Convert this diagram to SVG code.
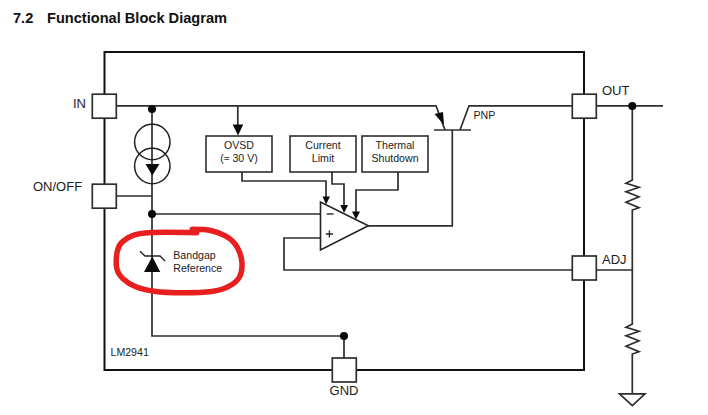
<svg xmlns="http://www.w3.org/2000/svg" width="708" height="415" viewBox="0 0 708 415">
  <style>
    text { font-family: "Liberation Sans", Arial, sans-serif; fill: #1c1c1c; }
    .title { font-size: 14.6px; font-weight: bold; fill: #111; }
    .pin { font-size: 13px; }
    .lbl { font-size: 10.6px; }
    .mid { text-anchor: middle; }
    .wire { fill: none; stroke: #2e2e2e; stroke-width: 1.7; }
    .box { fill: #fff; stroke: #2e2e2e; stroke-width: 1.6; }
    .fillk { fill: #0a0a0a; stroke: none; }
    .pinbox { fill: #fff; stroke: #2e2e2e; stroke-width: 1.7; }
  </style>
  <rect width="708" height="415" fill="#fff"/>

  <g id="heading">
    <text class="title" x="13" y="23">7.2</text>
    <text class="title" x="47" y="23">Functional Block Diagram</text>
  </g>

  <g id="package">
    <rect x="104.500" y="52" width="479.500" height="318" fill="none" stroke="#111" stroke-width="2"/>
    <text class="lbl" x="110.500" y="356">LM2941</text>
  </g>

  <g id="connectors">
    <!-- supply rail and transistor -->
    <path class="wire" d="M116 105.800H436L445 130"/>
    <path class="wire" d="M434 130H471"/>
    <path class="wire" d="M460 130L469 105.800H572"/>
    <path class="fillk" d="M434.500 114L443 112L444 125Z"/>
    <!-- regulator output and feedback divider -->
    <path class="wire" d="M596 105.800H663"/>
    <path class="wire" d="M632.300 106V180L626 183.300L639 187.300L626 191.700L639 196.700L626 202.300L639 207.700L632.300 210V324L626 327.300L639 331.300L626 335.700L639 340.700L626 346.300L639 351.700L632.300 354V393.500"/>
    <path class="wire" d="M596 270H632.300"/>
    <path class="wire" d="M619.500 393.800H645L632.300 405.700Z"/>
    <!-- reference chain -->
    <path class="wire" d="M152 106V336H344V358"/>
    <path class="wire" d="M116 196H152"/>
    <path class="wire" d="M152 214H320.500"/>
    <!-- block outputs into the error amplifier -->
    <path class="wire" d="M237.800 106V126"/>
    <path class="wire" d="M242 172V181H326V198"/>
    <path class="wire" d="M332 172V184H344V206"/>
    <path class="wire" d="M398 172V190H356V212"/>
    <path class="wire" d="M368 225.800H452.300V130"/>
    <path class="wire" d="M320.500 238H284V270H572"/>
    <path class="fillk" d="M232.700 124.500H243.200L238 135.500Z"/>
    <path class="fillk" d="M322.500 196.500H330L326 204.500Z"/>
    <path class="fillk" d="M340.300 205H348L344 213Z"/>
    <path class="fillk" d="M352 211.500H360L356 219.500Z"/>
    <!-- junction dots -->
    <circle class="fillk" cx="152" cy="109" r="4"/>
    <circle class="fillk" cx="152" cy="214" r="4"/>
    <circle class="fillk" cx="344" cy="336" r="4"/>
    <circle class="fillk" cx="632.300" cy="106" r="4"/>
  </g>

  <g id="pin-in">
    <rect class="pinbox" x="92.300" y="94.200" width="24" height="24"/>
    <text class="pin" x="73" y="107.500">IN</text>
  </g>
  <g id="pin-onoff">
    <rect class="pinbox" x="92.300" y="184.200" width="24" height="24"/>
    <text class="pin" x="33" y="191">ON/OFF</text>
  </g>
  <g id="pin-out">
    <rect class="pinbox" x="572.300" y="94.200" width="24" height="24"/>
    <text class="pin" x="602" y="95">OUT</text>
  </g>
  <g id="pin-adj">
    <rect class="pinbox" x="572.300" y="256" width="24" height="24"/>
    <text class="pin" x="602" y="263.500">ADJ</text>
  </g>
  <g id="pin-gnd">
    <rect class="pinbox" x="332.300" y="358" width="24" height="24"/>
    <text class="pin mid" x="344" y="395">GND</text>
  </g>

  <g id="current-sources">
    <circle cx="152.300" cy="142" r="17.700" fill="none" stroke="#222" stroke-width="1.500"/>
    <circle cx="152.300" cy="166" r="17.700" fill="none" stroke="#222" stroke-width="1.500"/>
    <path class="fillk" d="M145.500 164H159.500L152.300 175.500Z"/>
  </g>

  <g id="ovsd">
    <rect class="box" x="206" y="136" width="66" height="36"/>
    <text class="lbl mid" x="239" y="148.500">OVSD</text>
    <text class="lbl mid" x="239" y="161.500">(≈ 30 V)</text>
  </g>
  <g id="current-limit">
    <rect class="box" x="290" y="136" width="66" height="36"/>
    <text class="lbl mid" x="323" y="148.500">Current</text>
    <text class="lbl mid" x="323" y="161.500">Limit</text>
  </g>
  <g id="thermal-shutdown">
    <rect class="box" x="362" y="136" width="66" height="36"/>
    <text class="lbl mid" x="395" y="148.500">Thermal</text>
    <text class="lbl mid" x="395" y="161.500">Shutdown</text>
  </g>

  <g id="error-amp">
    <path d="M320.500 202V250L368.300 225.800Z" fill="#fff" stroke="#222" stroke-width="1.600"/>
    <path d="M326.700 214H333.500" stroke="#333" stroke-width="1.500"/>
    <path d="M325.800 234H333M329.400 230.400V237.600" stroke="#222" stroke-width="1.300"/>
  </g>

  <g id="pass-transistor">
    <text class="lbl" x="473.500" y="119">PNP</text>
  </g>

  <g id="bandgap-reference">
    <path class="fillk" d="M152.300 256.500L160.300 272H144Z"/>
    <path d="M140 251.300L145 256H160L165 261" fill="none" stroke="#222" stroke-width="1.400"/>
    <text class="lbl" x="173.300" y="258.500">Bandgap</text>
    <text class="lbl" x="173.300" y="272">Reference</text>
  </g>

  <path id="hand-circle" d="M196.700 232.700Q165 232 151.700 232.500Q138.300 233 131.700 235.900Q125 238.700 121.300 242.900Q117.700 247 116.700 254.500Q115.700 262 116.700 267.900Q117.700 273.700 123 278.700Q128.300 283.700 135.800 286.700Q143.300 289.700 154.200 291.200Q165 292.700 183.400 292.700Q201.700 292.700 211.700 291.500Q221.700 290.300 229.200 286.200Q236.700 282 239.500 277Q242.300 272 242 263.700Q241.700 255.300 237.500 247.800Q233.300 240.300 225.800 236.200Q218.300 232 211.700 230.700Q205 229.300 192.300 229.300" fill="none" stroke="#e81f1f" stroke-width="5.500" stroke-linecap="round" stroke-linejoin="round"/>
</svg>
